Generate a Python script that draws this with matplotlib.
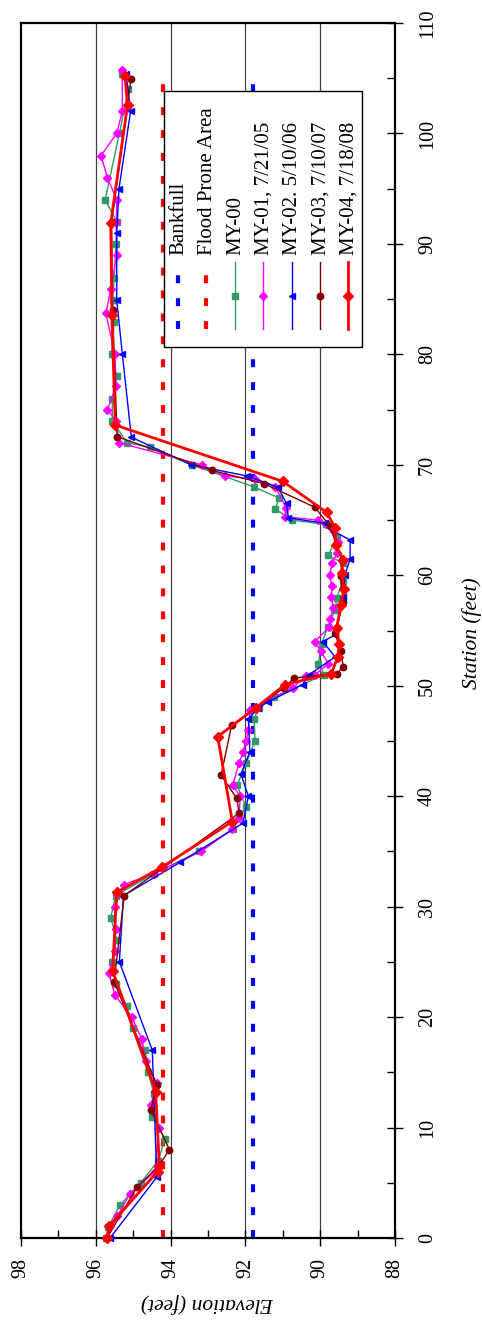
import matplotlib
matplotlib.use("Agg")
import matplotlib.pyplot as plt
from matplotlib.patches import Rectangle
from matplotlib.ticker import MultipleLocator

plt.rcParams['font.family'] = ['Liberation Serif', 'DejaVu Serif']

# ---- data: (station ft, elevation ft) for each survey ----
bankfull_elev = 91.8
flood_prone_elev = 94.2
ref_station = [0, 104.8]

my00_sta = [0, 1.0, 3.0, 5.0, 7.0, 9.0, 11.0, 13.0, 15.0, 17.0, 19.0, 21.0, 23.0, 25.0,
            27.0, 29.0, 31.0, 33.0, 35.0, 37.0, 39.0, 41.0, 43.0, 45.0, 47.0, 48.0, 49.0,
            51.0, 52.0, 53.8, 55.3, 56.9, 57.9, 59.5, 61.1, 61.8, 63.5, 64.6, 65.0, 66.0,
            67.0, 68.0, 70.0, 71.6, 72.0, 74.0, 76.0, 78.0, 80.0, 82.9, 84.9, 86.9, 90.0,
            92.0, 94.0, 100.0, 104.0, 105.4]
my00_elev = [95.72, 95.67, 95.35, 94.80, 94.33, 94.15, 94.50, 94.44, 94.60, 94.68, 95.01,
             95.17, 95.46, 95.58, 95.44, 95.60, 95.47, 94.44, 93.23, 92.34, 91.99, 92.22,
             91.98, 91.74, 91.77, 91.64, 91.23, 89.89, 90.05, 89.96, 89.80, 89.60, 89.56,
             89.40, 89.40, 89.78, 89.56, 89.85, 90.76, 91.20, 91.10, 91.77, 93.44, 94.55,
             95.17, 95.56, 95.56, 95.44, 95.58, 95.51, 95.55, 95.51, 95.46, 95.44, 95.75,
             95.37, 95.13, 95.30]

my01_sta = [0, 2.0, 4.0, 6.0, 10.0, 12.0, 14.0, 16.0, 18.0, 20.0, 22.0, 24.0, 26.0, 28.0,
            30.0, 32.0, 33.0, 35.0, 37.0, 38.0, 40.0, 41.0, 43.0, 44.0, 45.0, 46.0, 47.8,
            49.8, 50.9, 51.0, 52.0, 53.1, 54.0, 55.3, 56.0, 57.0, 58.0, 59.0, 60.0, 61.1,
            62.0, 63.0, 64.6, 65.0, 65.3, 66.1, 68.0, 68.7, 69.0, 70.0, 72.0, 74.0, 75.0,
            77.1, 80.0, 83.7, 85.9, 89.0, 92.0, 94.0, 96.0, 98.0, 100.0, 102.0, 105.75]
my01_elev = [95.70, 95.42, 95.09, 94.42, 94.32, 94.53, 94.37, 94.66, 94.77, 95.04, 95.49,
             95.65, 95.49, 95.47, 95.49, 95.25, 94.44, 93.18, 92.36, 92.17, 92.14, 92.34,
             92.17, 92.06, 91.98, 91.92, 91.88, 90.73, 90.38, 90.14, 89.78, 89.98, 90.14,
             89.76, 89.74, 89.65, 89.70, 89.69, 89.74, 89.69, 89.54, 89.52, 89.84, 90.07,
             90.94, 90.91, 91.20, 91.74, 92.55, 93.17, 95.38, 95.46, 95.69, 95.46, 95.49,
             95.73, 95.60, 95.44, 95.45, 95.44, 95.69, 95.86, 95.44, 95.29, 95.29]

my02_sta = [0, 5.5, 13.3, 17.0, 25.0, 31.0, 34.0, 37.55, 40.0, 42.0, 44.0, 47.0, 48.0,
            48.55, 50.1, 51.0, 52.6, 54.0, 54.6, 58.0, 60.0, 61.5, 63.2, 64.0, 64.7, 65.2,
            66.5, 68.0, 69.0, 70.0, 72.5, 80.0, 84.9, 91.0, 95.0, 102.0, 105.4]
my02_elev = [95.62, 94.37, 94.45, 94.49, 95.37, 95.26, 93.75, 92.07, 91.92, 92.12, 91.88,
             91.92, 91.65, 91.39, 90.47, 90.30, 89.60, 89.93, 89.60, 89.38, 89.34, 89.20,
             89.20, 89.65, 89.87, 90.85, 90.90, 91.14, 91.97, 93.45, 95.05, 95.29, 95.44,
             95.44, 95.38, 95.07, 95.19]

my03_sta = [0, 4.6, 6.5, 8.0, 11.6, 13.85, 23.2, 31.0, 38.45, 39.8, 41.9, 46.4, 49.8, 50.7,
            51.1, 51.7, 53.1, 54.75, 57.6, 59.9, 61.4, 64.45, 66.15, 68.3, 69.5, 72.55,
            84.0, 92.0, 102.6, 104.9]
my03_elev = [95.70, 94.90, 94.32, 94.03, 94.53, 94.37, 95.51, 95.24, 92.17, 92.23, 92.65,
             92.37, 90.97, 90.70, 89.56, 89.38, 89.45, 89.60, 89.38, 89.45, 89.42, 89.74,
             90.14, 91.50, 92.90, 95.43, 95.55, 95.58, 95.15, 95.06]

my04_sta = [0, 1.1, 6.0, 6.5, 13.25, 24.2, 31.3, 33.6, 37.7, 45.4, 48.0, 50.1, 51.1, 52.6,
            53.8, 55.2, 57.3, 58.8, 60.2, 61.4, 62.7, 64.3, 65.7, 68.5, 73.6, 83.6, 91.9,
            102.6, 105.2]
my04_elev = [95.70, 95.64, 94.35, 94.30, 94.40, 95.55, 95.44, 94.22, 92.35, 92.74, 91.72,
             90.94, 89.70, 89.53, 89.49, 89.56, 89.45, 89.36, 89.43, 89.38, 89.58, 89.60,
             89.83, 91.00, 95.48, 95.57, 95.60, 95.15, 95.22]

# ---- figure: the chart is drawn turned on its side ----
W, H = 482, 1324
fig = plt.figure(figsize=(W / 100, H / 100), dpi=100)
ax_l, ax_r, ax_t, ax_b = 21, 395, 23, 1238
ax = fig.add_axes([ax_l / W, (H - ax_b) / H, (ax_r - ax_l) / W, (ax_b - ax_t) / H])

ax.set_xlim(98, 88)
ax.set_ylim(0, 110)

for e in [96, 94, 92, 90]:
    ax.axvline(e, color='#404040', lw=0.9, zorder=1)

dash = dict(lw=3.0, dashes=(1.9, 3.6), zorder=2)
ax.plot([bankfull_elev] * 2, ref_station, color='#0000FF', **dash)
ax.plot([flood_prone_elev] * 2, ref_station, color='#FF0000', **dash)

series = [
    (my00_elev, my00_sta, '#339966', 's', 4.8, 1.0, 'MY-00'),
    (my01_elev, my01_sta, '#FF00FF', 'D', 3.6, 1.0, 'MY-01, 7/21/05'),
    (my02_elev, my02_sta, '#0000FF', '<', 5.0, 1.0, 'MY-02. 5/10/06'),
    (my03_elev, my03_sta, '#800000', 'o', 4.6, 1.0, 'MY-03, 7/10/07'),
    (my04_elev, my04_sta, '#FF0000', 'D', 5.0, 2.0, 'MY-04, 7/18/08'),
]
for i, (x, y, c, m, ms, lw, lab) in enumerate(series):
    ax.plot(x, y, color=c, marker=m, ms=ms, lw=lw, mec=c, mfc=c,
            zorder=3 + i, clip_on=False)

# axes styling
for s in ax.spines.values():
    s.set_linewidth(1.6)
ax.yaxis.tick_right()
ax.xaxis.set_major_locator(MultipleLocator(2))
ax.xaxis.set_minor_locator(MultipleLocator(1))
ax.yaxis.set_major_locator(MultipleLocator(10))
ax.yaxis.set_minor_locator(MultipleLocator(5))
ax.tick_params(which='major', direction='inout', length=11, width=1.0, labelsize=14.5)
ax.tick_params(which='minor', direction='in', length=5.5, width=1.0)
ax.tick_params(axis='y', which='major', labelrotation=90, pad=11)
ax.tick_params(axis='x', which='major', labelrotation=90, pad=9)
for t in ax.get_yticklabels():
    t.set_va('center')
    t.set_ha('left')
ax.set_xticklabels([f"{v:g}" for v in ax.get_xticks()])

fig.text((ax_l + ax_r) / 2 / W, 1 - 1303 / H, 'Elevation (feet)', rotation=180,
         style='italic', fontsize=15.5, ha='center', va='center')
fig.text(472 / W, 1 - 633 / H, 'Station (feet)', rotation=90,
         style='italic', fontsize=15.5, ha='center', va='center')


# ---- legend, drawn by hand so that it turns with the chart ----
def to_ax(px, py):
    return (px - ax_l) / (ax_r - ax_l), (ax_b - py) / (ax_b - ax_t)


x0, y0 = to_ax(164, 347)
x1, y1 = to_ax(362, 91)
ax.add_patch(Rectangle((x0, y0), x1 - x0, y1 - y0, transform=ax.transAxes,
                       facecolor='white', edgecolor='black', lw=1.0, zorder=20,
                       clip_on=False))

legend_rows = [('Bankfull', '#0000FF', None, 0, 0, True),
               ('Flood Prone Area', '#FF0000', None, 0, 0, True)]
legend_rows += [(lab, c, m, ms, lw, False) for (_, _, c, m, ms, lw, lab) in series]
for k, (lab, c, m, ms, lw, dashed) in enumerate(legend_rows):
    px = 178 + k * 28.4
    lx, ly0 = to_ax(px, 329)
    _, ly1 = to_ax(px, 262)
    _, lym = to_ax(px, 296)
    if dashed:
        ax.plot([lx, lx], [ly0, ly1], color=c, transform=ax.transAxes, lw=3.0,
                dashes=(1.9, 3.6), zorder=21, clip_on=False)
    else:
        ax.plot([lx, lx], [ly0, ly1], color=c, transform=ax.transAxes, lw=lw,
                zorder=21, clip_on=False)
        ax.plot([lx], [lym], color=c, marker=m, ms=ms, transform=ax.transAxes,
                zorder=22, clip_on=False)
    tx, ty = to_ax(px + 1, 255)
    ax.text(tx, ty, lab, rotation=90, ha='center', va='bottom', fontsize=15,
            transform=ax.transAxes, zorder=23)

fig.savefig('out.png', dpi=100)
